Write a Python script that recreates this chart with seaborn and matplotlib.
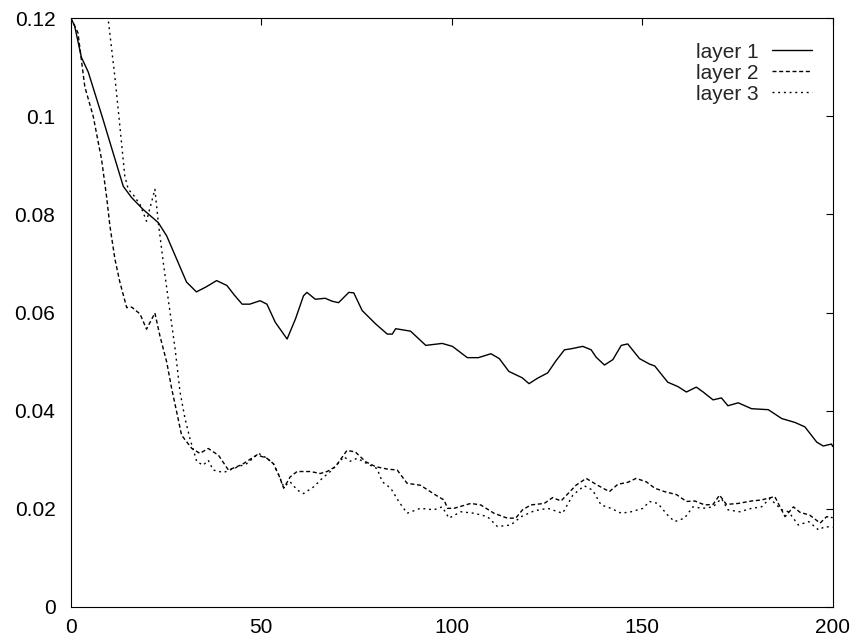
import numpy as np
import pandas as pd
import matplotlib
matplotlib.use("Agg")
import matplotlib.pyplot as plt
import seaborn as sns

# ── Data ─────────────────────────────────────────────────────────────────────
LAYERS = ["layer 1", "layer 2", "layer 3"]

layer1_x = [0, 1, 2.8, 4.6, 8.5, 11.1, 13.8, 16, 19, 23,
            25.2, 27.8, 30.4, 33, 35.5, 38.3, 41, 43, 45, 47,
            49.7, 51.5, 53.7, 56.8, 59, 61.1, 62, 64.2, 66.8, 68.6,
            70.3, 73, 74.3, 76.5, 80, 83.1, 84.4, 85.3, 89.2, 93.2,
            97.5, 100.2, 104.1, 107, 110.3, 112.5, 115, 118.5, 120.3, 122.5,
            125.2, 127.4, 129.6, 131.3, 134.4, 136.6, 137.9, 140.1, 142.3, 144.5,
            146.2, 149.3, 151.9, 153.3, 156.7, 159.4, 161.6, 164.2, 166, 168.6,
            170.8, 172.5, 175.2, 178.7, 183.1, 186.6, 190.1, 192.7, 195.8, 197.5,
            199.7, 200]
layer1_y = [0.1200, 0.1185, 0.1120, 0.1090, 0.0993, 0.0926, 0.0857, 0.0834, 0.0810, 0.0783,
            0.0756, 0.0709, 0.0662, 0.0642, 0.0652, 0.0665, 0.0655, 0.0635, 0.0617, 0.0617,
            0.0624, 0.0617, 0.0580, 0.0546, 0.0587, 0.0634, 0.0641, 0.0627, 0.0629, 0.0623,
            0.0620, 0.0641, 0.0640, 0.0604, 0.0577, 0.0556, 0.0556, 0.0567, 0.0562, 0.0533,
            0.0537, 0.0531, 0.0508, 0.0508, 0.0516, 0.0506, 0.0480, 0.0467, 0.0455, 0.0466,
            0.0477, 0.0502, 0.0524, 0.0526, 0.0531, 0.0524, 0.0509, 0.0493, 0.0504, 0.0533,
            0.0536, 0.0506, 0.0495, 0.0491, 0.0458, 0.0449, 0.0438, 0.0448, 0.0438, 0.0422,
            0.0426, 0.0410, 0.0416, 0.0404, 0.0402, 0.0384, 0.0376, 0.0367, 0.0336, 0.0328,
            0.0332, 0.0327]

layer2_x = [0, 1.9, 3.7, 5.9, 8.1, 9.4, 10.3, 11.6, 12.9, 14.7,
            16, 18.2, 19.9, 22.1, 23.4, 25.2, 26.5, 27.8, 29.1, 31.8,
            33.9, 36.1, 38.8, 41.4, 44.9, 48.9, 51.5, 53.2, 54.6, 55.9,
            57.6, 59.4, 62.9, 65.5, 67.3, 69.5, 72.5, 74.7, 77.4, 80,
            83.1, 85.7, 88.3, 91.8, 95.8, 98, 98.9, 100.6, 105, 107.6,
            111.1, 114.6, 116.8, 118.6, 120.8, 124.3, 126.5, 128.7, 132.6, 135.3,
            138.3, 141.4, 143.6, 146.2, 148.4, 151.1, 153.3, 155.9, 159, 161.6,
            163.8, 166.4, 168.6, 170.3, 172.1, 175.2, 178.7, 181.3, 184.8, 187.5,
            189.7, 191.4, 194, 196.7, 198.4, 200]
layer2_y = [0.1200, 0.1170, 0.1060, 0.1000, 0.0912, 0.0837, 0.0776, 0.0709, 0.0662, 0.0610,
            0.0611, 0.0597, 0.0566, 0.0599, 0.0553, 0.0499, 0.0445, 0.0398, 0.0350, 0.0323,
            0.0313, 0.0323, 0.0309, 0.0279, 0.0290, 0.0310, 0.0303, 0.0292, 0.0269, 0.0242,
            0.0265, 0.0276, 0.0276, 0.0272, 0.0276, 0.0286, 0.0319, 0.0316, 0.0296, 0.0286,
            0.0281, 0.0279, 0.0252, 0.0248, 0.0228, 0.0218, 0.0201, 0.0201, 0.0211, 0.0208,
            0.0191, 0.0181, 0.0181, 0.0198, 0.0208, 0.0211, 0.0223, 0.0216, 0.0248, 0.0262,
            0.0248, 0.0235, 0.0250, 0.0254, 0.0262, 0.0255, 0.0242, 0.0235, 0.0229, 0.0215,
            0.0216, 0.0208, 0.0209, 0.0228, 0.0209, 0.0211, 0.0216, 0.0218, 0.0225, 0.0184,
            0.0204, 0.0193, 0.0187, 0.0171, 0.0184, 0.0182]

layer3_x = [8, 9.8, 11.6, 12.9, 14.2, 15.1, 16.4, 18.2, 19.9, 22.1,
            23, 24.3, 25.6, 27.4, 28.7, 30, 31.3, 33.1, 34.8, 36.1,
            37.4, 40.1, 42.7, 46.2, 49.3, 51.5, 53.2, 54.6, 55.9, 57.6,
            59.5, 61.1, 63.8, 66, 68.6, 71.7, 73.4, 75.2, 77.8, 80.4,
            81.8, 84, 86.1, 88.3, 91.8, 95.3, 97.5, 99.3, 102.4, 105.9,
            109.4, 112, 115.5, 118.2, 121.7, 125.2, 129.1, 131.8, 134.8, 137,
            139.2, 141.8, 144.5, 147.1, 150.2, 151.9, 154.1, 156.7, 158.5, 161.1,
            163.3, 165.9, 168.6, 170.8, 172.5, 175.6, 178.7, 181.3, 183.5, 186.6,
            188.4, 191, 193.7, 196.3, 198, 200]
layer3_y = [0.1300, 0.1200, 0.1080, 0.0980, 0.0878, 0.0851, 0.0840, 0.0820, 0.0786, 0.0851,
            0.0783, 0.0702, 0.0627, 0.0526, 0.0438, 0.0384, 0.0343, 0.0296, 0.0289, 0.0299,
            0.0279, 0.0274, 0.0282, 0.0292, 0.0313, 0.0303, 0.0292, 0.0269, 0.0245, 0.0255,
            0.0238, 0.0231, 0.0245, 0.0262, 0.0279, 0.0306, 0.0297, 0.0303, 0.0292, 0.0282,
            0.0255, 0.0242, 0.0215, 0.0191, 0.0201, 0.0198, 0.0204, 0.0181, 0.0194, 0.0191,
            0.0184, 0.0164, 0.0167, 0.0184, 0.0196, 0.0201, 0.0191, 0.0228, 0.0247, 0.0238,
            0.0208, 0.0201, 0.0191, 0.0194, 0.0201, 0.0215, 0.0211, 0.0187, 0.0174, 0.0181,
            0.0204, 0.0201, 0.0204, 0.0221, 0.0198, 0.0194, 0.0201, 0.0204, 0.0221, 0.0198,
            0.0194, 0.0167, 0.0174, 0.0157, 0.0164, 0.0162]

X_TICKS = [0, 50, 100, 150, 200]
Y_TICKS = [0, 0.02, 0.04, 0.06, 0.08, 0.1, 0.12]
Y_LABELS = ["0", "0.02", "0.04", "0.06", "0.08", "0.1", "0.12"]

# ── Long table for seaborn ───────────────────────────────────────────────────
df = pd.concat([
    pd.DataFrame({"x": layer1_x, "err": layer1_y, "layer": LAYERS[0]}),
    pd.DataFrame({"x": layer2_x, "err": layer2_y, "layer": LAYERS[1]}),
    pd.DataFrame({"x": layer3_x, "err": layer3_y, "layer": LAYERS[2]}),
], ignore_index=True)

# ── Plot ─────────────────────────────────────────────────────────────────────
sns.set_theme(style="white")
plt.rcParams["font.family"] = ["Liberation Sans", "DejaVu Sans"]

W, H = 856, 640
fig, ax = plt.subplots(figsize=(W / 100, H / 100), dpi=100)
fig.subplots_adjust(left=70.7 / W, right=832.7 / W, bottom=1 - 607 / H, top=1 - 18 / H)

dashes = {"layer 1": "", "layer 2": (2.9, 1.9), "layer 3": (1.4, 2.7)}
sns.lineplot(data=df, x="x", y="err", style="layer", style_order=LAYERS,
             dashes=dashes, color="black", linewidth=1.0, estimator=None,
             legend=False, ax=ax)

ax.set_xlim(0, 200)
ax.set_ylim(0, 0.12)
ax.set_xticks(X_TICKS)
ax.set_xticklabels([str(t) for t in X_TICKS])
ax.set_yticks(Y_TICKS)
ax.set_yticklabels(Y_LABELS)
ax.set_xlabel("")
ax.set_ylabel("")

for s in ax.spines.values():
    s.set_visible(True)
    s.set_color("black")
    s.set_linewidth(0.8)
ax.tick_params(direction="in", length=5, width=0.8, top=True, right=True,
               labelsize=15, colors="black")
ax.tick_params(axis="x", pad=8)
ax.tick_params(axis="y", pad=11)

ax.legend(ax.get_lines()[:3], LAYERS, loc="upper right", markerfirst=False,
          frameon=False, fontsize=15, handlelength=1.9, handletextpad=0.65,
          labelspacing=0.1, borderpad=0, borderaxespad=0,
          bbox_to_anchor=(811.7 / W, 1 - 42.5 / H), bbox_transform=fig.transFigure)

plt.savefig("out.png", dpi=100)
plt.close()
